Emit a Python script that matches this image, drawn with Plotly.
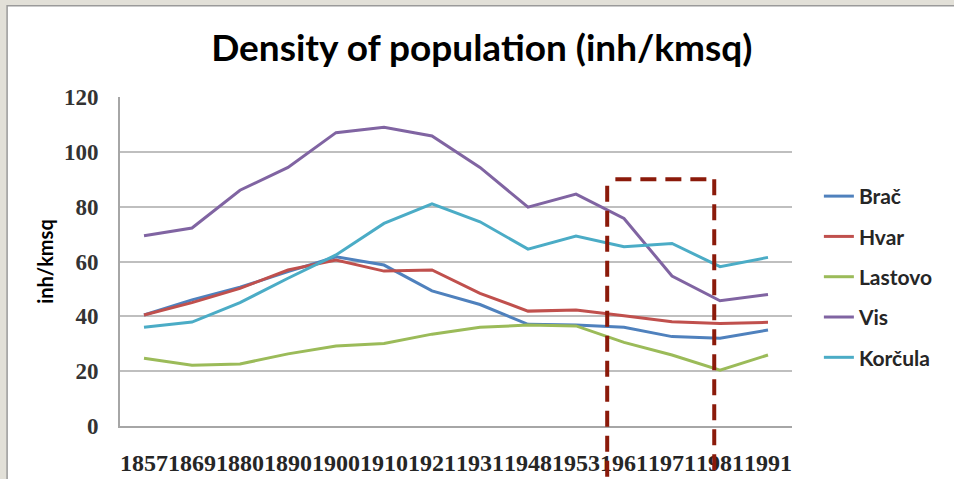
import plotly.graph_objects as go

years = ["1857", "1869", "1880", "1890", "1900", "1910", "1921", "1931",
         "1948", "1953", "1961", "1971", "1981", "1991"]

brac = [40.5, 46.0, 50.6, 56.3, 61.7, 58.7, 49.3, 44.3, 37.1, 36.8, 36.0, 32.6, 32.0, 35.0]
hvar = [40.5, 45.0, 50.2, 56.9, 60.5, 56.5, 56.9, 48.4, 41.9, 42.3, 40.2, 38.0, 37.4, 37.8]
lastovo = [24.7, 22.2, 22.6, 26.3, 29.2, 30.1, 33.5, 36.0, 36.8, 36.5, 30.5, 25.9, 20.4, 25.9]
vis = [69.4, 72.2, 86.0, 94.3, 107.0, 109.0, 105.8, 94.3, 79.8, 84.6, 75.7, 54.7, 45.7, 48.0]
korcula = [36.0, 37.9, 45.0, 53.9, 62.4, 73.9, 81.0, 74.5, 64.5, 69.3, 65.4, 66.6, 58.1, 61.5]

series_names = ["Brač", "Hvar", "Lastovo", "Vis", "Korčula"]
series_values = [brac, hvar, lastovo, vis, korcula]
series_colors = ["#4F81BD", "#C0504D", "#9BBB59", "#8064A2", "#4BACC6"]

y_ticks = [0, 20, 40, 60, 80, 100, 120]

# highlighted period box (category-index units / value units)
box_left, box_right, box_top = 9.65, 11.88, 90

fig = go.Figure()
for name, vals, col in zip(series_names, series_values, series_colors):
    fig.add_trace(go.Scatter(
        x=years, y=vals, name=name, mode="lines",
        line=dict(color=col, width=3),
        legendgroup=name,
    ))

box_color = "#8B1A0A"
dash = "16px,9px"
frac_top = box_top / 120
fig.add_shape(type="line", xref="x", yref="paper", x0=box_left, x1=box_left,
              y0=frac_top - 0.02, y1=-0.25, line=dict(color=box_color, width=4, dash=dash))
fig.add_shape(type="line", xref="x", yref="paper", x0=box_right, x1=box_right,
              y0=frac_top, y1=-0.25, line=dict(color=box_color, width=4, dash=dash))
fig.add_shape(type="line", xref="x", yref="paper", x0=box_left + 0.17, x1=box_right,
              y0=frac_top, y1=frac_top, line=dict(color=box_color, width=4, dash=dash))

# outer frame (slide border)
fig.add_shape(type="rect", xref="paper", yref="paper", layer="below",
              x0=-0.168, x1=1.4, y0=-0.3, y1=1.277,
              fillcolor="white", line=dict(color="#9A9A9A", width=1.5))

fig.update_layout(
    width=954, height=479, autosize=False,
    paper_bgcolor="#E2E0D8", plot_bgcolor="white",
    margin=dict(l=120, r=162, t=97, b=53, autoexpand=False),
    title=dict(text="<b>Density of population (inh/kmsq)</b>",
               x=0.505, xanchor="center", y=0.9, yanchor="middle", yref="container",
               font=dict(family="Lato", size=37, color="black")),
    xaxis=dict(type="category", range=[-0.5, 13.5], showgrid=False,
               showline=True, linecolor="#A6A6A6", linewidth=2,
               ticks="", ticklabelstandoff=14, tickangle=0, automargin=False,
               tickfont=dict(family="Liberation Serif", size=24, color="#262626",
                             weight="bold")),
    yaxis=dict(range=[0, 120], tickvals=y_ticks, showgrid=True,
               gridcolor="#BFBFBF", gridwidth=2, automargin=False,
               showline=True, linecolor="#A6A6A6", linewidth=2,
               zeroline=False, ticks="", ticklabelstandoff=15,
               tickfont=dict(family="Liberation Serif", size=23, color="#333333",
                             weight="bold"),
               title=dict(text="<b>inh/kmsq</b>", standoff=5,
                          font=dict(family="Lato", size=20, color="black"))),
    legend=dict(x=1.04, xanchor="left", y=0.453, yanchor="middle",
                font=dict(family="Lato", size=21, color="#262626", weight="bold"),
                tracegroupgap=10, bgcolor="rgba(0,0,0,0)"),
    showlegend=True,
)

fig.write_html("out.html", config={"displayModeBar": False},
               post_script="document.body.style.margin='0';document.body.style.overflow='hidden';")
